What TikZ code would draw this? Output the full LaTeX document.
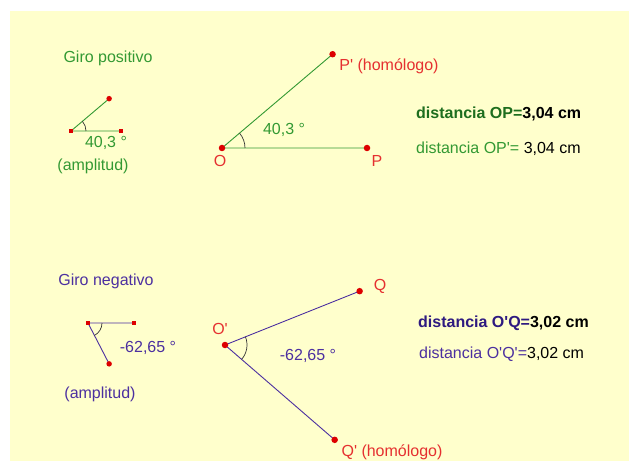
\documentclass[tikz,border=0pt]{standalone}
\usepackage{fontspec}
\setmainfont{Liberation Sans}
\usepackage{xcolor}
\usepackage{tikz}
\usetikzlibrary{positioning,calc}

\definecolor{fondo}{HTML}{FFFFCC}
\definecolor{verde}{HTML}{339933}
\definecolor{verdeosc}{HTML}{1E6E1E}
\definecolor{lila}{HTML}{4C30A0}
\definecolor{lilaosc}{HTML}{2E1A80}
\definecolor{rojo}{HTML}{E53030}
\definecolor{punto}{HTML}{DD0000}

\begin{document}
\begin{tikzpicture}[x=1pt, y=1pt, font=\fontsize{16}{19}\selectfont,
  dot/.style = {circle, fill=punto, inner sep=0pt, minimum size=6.5pt},
  mini/.style = {rectangle, fill=punto, inner sep=0pt, minimum size=3.5pt},
  lab/.style = {text=rojo, inner sep=0pt},
  seg/.style = {line width=0.9pt},
  arco/.style = {line width=0.7pt, black!80}]

% fondo
\useasboundingbox (0,0) rectangle (629,461);
\fill[white] (0,0) rectangle (629,461);
\fill[fondo] (10,0) rectangle (629,450);

% giro positivo
\coordinate (a1) at (71,330);
\coordinate (b1) at (121,330);
\coordinate (c1) at ($(a1)+(40.3:50)$);
\coordinate (O) at (222,313);
\coordinate (P) at ($(O)+(145,0)$);
\coordinate (P2) at ($(O)+(40.3:145)$);

\draw[seg, verde] (b1) -- (a1) -- (c1);
\draw[seg, verde] (P) -- (O) -- (P2);
\draw[arco] (a1) ++(0:15) arc[start angle=0, end angle=40.3, radius=15pt];
\draw[arco] (O) ++(0:23) arc[start angle=0, end angle=40.3, radius=23pt];

\node[mini] (na1) at (a1) {};
\node[mini] (nb1) at (b1) {};
\node[dot, minimum size=5.5pt] (nc1) at (c1) {};
\node[dot] (nO) at (O) {};
\node[dot] (nP) at (P) {};
\node[dot] (nP2) at (P2) {};

\node[text=verde] (giro1) at (108,403) {Giro positivo};
\node[text=verde] (ang1) at (106,318) {40,3 °};
\node[text=verde] (amp1) at (93,295) {(amplitud)};
\node[text=verde] (ang2) at (284,331) {40,3 °};
\node[lab] (lO) at (220,300) {O};
\node[lab] (lP) at (377,300) {P};
\node[lab] (lP2) at (389,395) {P\textquotesingle{} (homólogo)};
\node[anchor=west, inner sep=0pt] (d1) at (416,347)
  {\textbf{\textcolor{verdeosc}{distancia OP=}3,04 cm}};
\node[anchor=west, inner sep=0pt] (d2) at (416,312)
  {\textcolor{verde}{distancia OP\textquotesingle=} 3,04 cm};

% giro negativo
\coordinate (a2) at (88,138);
\coordinate (b2) at (134,138);
\coordinate (c2) at ($(a2)+(-62.65:46)$);
\coordinate (O2) at (225,116);
\coordinate (Q) at ($(O2)+(21.8:145)$);
\coordinate (Q2) at ($(O2)+(-40.85:145)$);

\draw[seg, lila] (b2) -- (a2) -- (c2);
\draw[seg, lila] (Q) -- (O2) -- (Q2);
\draw[arco] (a2) ++(0:14) arc[start angle=0, end angle=-62.65, radius=14pt];
\draw[arco] (O2) ++(21.8:22) arc[start angle=21.8, end angle=-40.85, radius=22pt];

\node[mini] (na2) at (a2) {};
\node[mini] (nb2) at (b2) {};
\node[dot, minimum size=5.5pt] (nc2) at (c2) {};
\node[dot] (nO2) at (O2) {};
\node[dot] (nQ) at (Q) {};
\node[dot] (nQ2) at (Q2) {};

\node[text=lila] (giro2) at (106,180) {Giro negativo};
\node[text=lila] (ang3) at (148,113) {-62,65 °};
\node[text=lila] (amp2) at (100,67) {(amplitud)};
\node[text=lila] (ang4) at (308,105) {-62,65 °};
\node[lab] (lO2) at (220,132) {O\textquotesingle};
\node[lab] (lQ) at (380,175) {Q};
\node[lab] (lQ2) at (392,9) {Q\textquotesingle{} (homólogo)};
\node[anchor=west, inner sep=0pt] (d3) at (418,138)
  {\textbf{\textcolor{lilaosc}{distancia O\textquotesingle Q=}3,02 cm}};
\node[anchor=west, inner sep=0pt] (d4) at (419,107)
  {\textcolor{lila}{distancia O\textquotesingle Q\textquotesingle=}3,02 cm};
\end{tikzpicture}
\end{document}
